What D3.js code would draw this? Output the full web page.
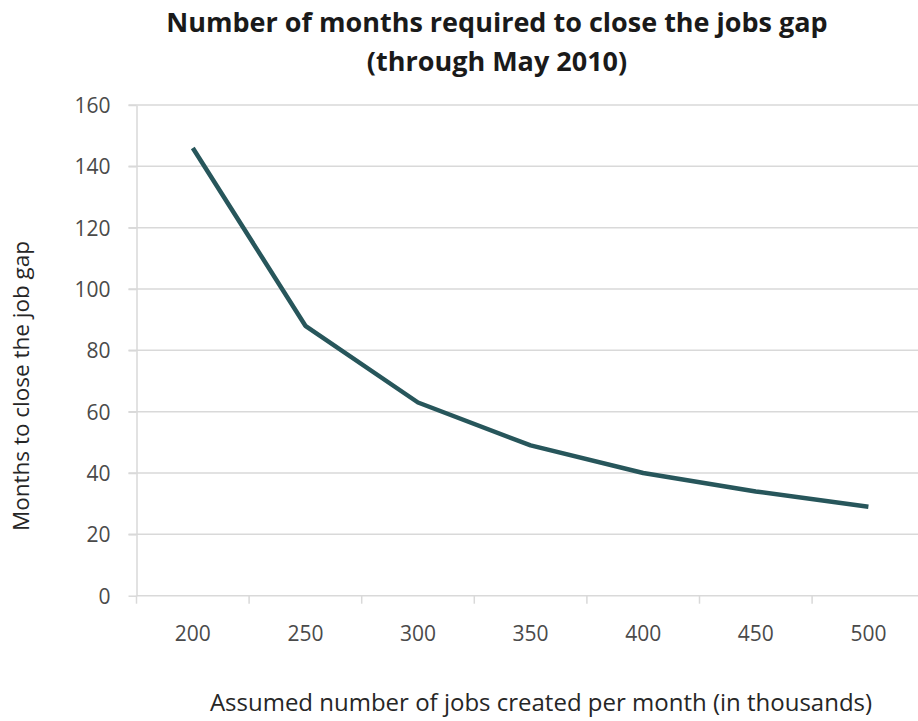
<!DOCTYPE html>
<meta charset="utf-8">
<style>
body { margin: 0; background: #fff; }
text { font-family: "Open Sans", sans-serif; }
.grid line { stroke: #d9d9d9; stroke-width: 1.5; }
.axis path, .axis line { stroke: #d9d9d9; stroke-width: 1.5; }
.axis text { fill: #4a4a4a; font-size: 21px; }
.line { fill: none; stroke: #27565b; stroke-width: 4.5; stroke-linejoin: round; }
</style>
<body>
<script src="https://cdn.jsdelivr.net/npm/d3@7"></script>
<script>
// jobs per month (thousands) and months needed
var jobs = ["200", "250", "300", "350", "400", "450", "500"];
var months = [146, 88, 63, 49, 40, 34, 29];
var yTicks = [0, 20, 40, 60, 80, 100, 120, 140, 160];

var width = 918, height = 721;
var margin = {top: 105, left: 136.5, bottom: 125};

var svg = d3.select("body").append("svg")
    .attr("width", width)
    .attr("height", height);

var x = d3.scaleBand()
    .domain(jobs)
    .range([margin.left, margin.left + 7 * 112.6]);

var y = d3.scaleLinear()
    .domain([0, 160])
    .range([595.7, margin.top]);

// gridlines
svg.append("g")
    .attr("class", "grid")
    .selectAll("line")
    .data(yTicks.filter(function(d) { return d > 0; }))
    .enter().append("line")
    .attr("x1", margin.left - 8)
    .attr("x2", width)
    .attr("y1", function(d) { return y(d); })
    .attr("y2", function(d) { return y(d); });

// y axis
var yAxis = svg.append("g")
    .attr("class", "axis")
    .attr("transform", "translate(" + margin.left + ",0)")
    .call(d3.axisLeft(y).tickValues(yTicks).tickSize(8).tickPadding(18).tickSizeOuter(0));
yAxis.selectAll("text").attr("dy", "0.35em");

// x axis with ticks at band boundaries
var xAxis = svg.append("g")
    .attr("class", "axis")
    .attr("transform", "translate(0," + y(0) + ")")
    .call(d3.axisBottom(x).tickSize(0).tickPadding(30));
xAxis.select(".domain").attr("d", "M" + margin.left + ",0H" + width);
xAxis.selectAll(".bound")
    .data(jobs)
    .enter().append("line")
    .attr("x1", function(d) { return x(d); })
    .attr("x2", function(d) { return x(d); })
    .attr("y1", 0)
    .attr("y2", 8)
    .attr("stroke", "#d9d9d9")
    .attr("stroke-width", 1.5);

// the line
var line = d3.line()
    .x(function(d, i) { return x(jobs[i]) + x.bandwidth() / 2; })
    .y(function(d) { return y(d); });

svg.append("path")
    .datum(months)
    .attr("class", "line")
    .attr("d", line);

// titles
svg.append("text")
    .attr("x", 497)
    .attr("y", 32)
    .attr("text-anchor", "middle")
    .style("font-size", "27px")
    .style("font-weight", "bold")
    .style("fill", "#1a1a1a")
    .text("Number of months required to close the jobs gap");

svg.append("text")
    .attr("x", 497)
    .attr("y", 71)
    .attr("text-anchor", "middle")
    .style("font-size", "27px")
    .style("font-weight", "bold")
    .style("fill", "#1a1a1a")
    .text("(through May 2010)");

svg.append("text")
    .attr("x", 541)
    .attr("y", 711)
    .attr("text-anchor", "middle")
    .style("font-size", "24px")
    .style("fill", "#262626")
    .text("Assumed number of jobs created per month (in thousands)");

svg.append("text")
    .attr("transform", "translate(29,386) rotate(-90)")
    .attr("text-anchor", "middle")
    .style("font-size", "22.5px")
    .style("fill", "#262626")
    .text("Months to close the job gap");
</script>
</body>
